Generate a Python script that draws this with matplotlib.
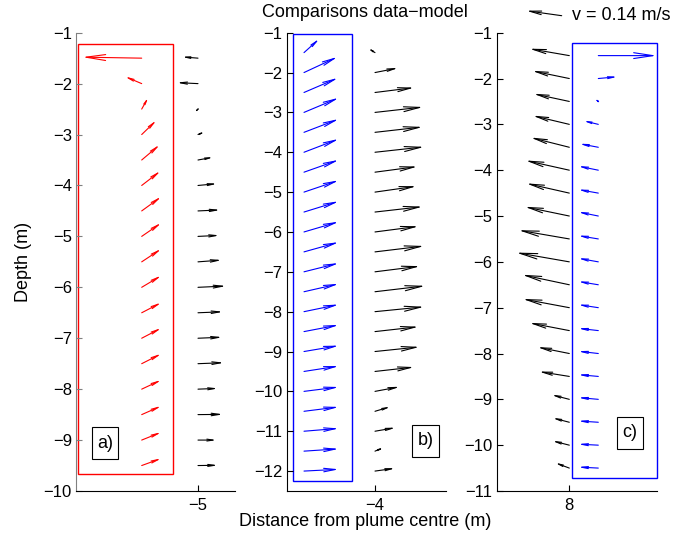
import numpy as np
import matplotlib
matplotlib.use('Agg')
import matplotlib.pyplot as plt
from matplotlib.patches import Rectangle
from matplotlib.path import Path

plt.rcParams['font.family'] = ['Liberation Sans', 'DejaVu Sans']
plt.rcParams['font.size'] = 12

DPI = 100
S = 257.0  # arrow length in pixels for 1 m/s

# ---- panel a) : data (black) at x=-5, model (red)
depth_a = np.arange(-1.5, -9.51, -0.5)
x_obs_a, x_mod_a = -5.0, -5.563
u_obs_a = [-0.063, -0.083, 0.007, 0.028, 0.060, 0.075, 0.087, 0.084, 0.093,
           0.110, 0.098, 0.095, 0.102, 0.078, 0.098, 0.073, 0.078]
v_obs_a = [0.005, 0.004, 0.007, 0.011, 0.011, 0.007, 0.004, 0.004, 0.007,
           0.005, 0.004, 0.004, 0.004, 0.003, 0.001, 0.000, 0.001]
u_mod_a = [-0.231, -0.066, 0.026, 0.058, 0.071, 0.074, 0.077, 0.077, 0.077,
           0.077, 0.077, 0.077, 0.077, 0.077, 0.077, 0.077, 0.077]
v_mod_a = [0.004, 0.028, 0.046, 0.056, 0.060, 0.057, 0.056, 0.053, 0.051,
           0.046, 0.040, 0.040, 0.039, 0.036, 0.034, 0.031, 0.028]

# ---- panel b) : data (black) at x=-4, model (blue)
depth_b = np.arange(-1.5, -12.01, -0.5)
x_obs_b, x_mod_b = -4.0, -4.71
u_obs_b = [-0.028, 0.091, 0.153, 0.188, 0.186, 0.192, 0.166, 0.162, 0.186, 0.170, 0.192,
           0.176, 0.196, 0.192, 0.170, 0.174, 0.153, 0.097, 0.061, 0.081, 0.035, 0.079]
v_obs_b = [0.018, 0.018, 0.019, 0.021, 0.021, 0.021, 0.022, 0.023, 0.021, 0.022, 0.023,
           0.022, 0.023, 0.019, 0.019, 0.018, 0.017, 0.018, 0.018, 0.014, 0.014, 0.011]
u_mod_b = [0.060, 0.131, 0.133, 0.136, 0.136, 0.136, 0.136, 0.136, 0.136, 0.136, 0.136,
           0.136, 0.136, 0.136, 0.136, 0.136, 0.136, 0.136, 0.136, 0.136, 0.136, 0.136]
v_mod_b = [0.054, 0.061, 0.057, 0.057, 0.052, 0.052, 0.048, 0.046, 0.042, 0.040, 0.038,
           0.034, 0.031, 0.028, 0.026, 0.023, 0.021, 0.017, 0.017, 0.011, 0.009, 0.007]

# ---- panel c) : data (black) at x=8, model (blue)
depth_c = np.arange(-1.5, -10.51, -0.5)
x_obs_c, x_mod_c = 8.0, 8.29
u_obs_c = [-0.156, -0.145, -0.140, -0.143, -0.151, -0.171, -0.168, -0.174, -0.198, -0.207,
           -0.184, -0.182, -0.156, -0.125, -0.119, -0.070, -0.066, -0.067, -0.056]
v_obs_c = [0.027, 0.030, 0.030, 0.034, 0.038, 0.038, 0.038, 0.036, 0.034, 0.036,
           0.039, 0.034, 0.030, 0.025, 0.019, 0.018, 0.017, 0.017, 0.021]
u_mod_c = [0.227, 0.075, -0.016, -0.058, -0.074, -0.079, -0.079, -0.079, -0.079, -0.079,
           -0.079, -0.079, -0.079, -0.079, -0.079, -0.079, -0.079, -0.079, -0.079]
v_mod_c = [0.000, 0.007, 0.013, 0.014, 0.014, 0.016, 0.014, 0.016, 0.013, 0.014,
           0.013, 0.012, 0.009, 0.009, 0.007, 0.007, 0.005, 0.004, 0.004]

# model domain boxes [x0, x1, y0, y1]
box_a = [-6.20, -5.25, -9.67, -1.22]
box_b = [-4.823, -4.233, -12.26, -1.03]
box_c = [8.027, 8.874, -10.72, -1.22]

key_u, key_v = -0.139, 0.0195


def head_style(uu, vv):
    lp = np.hypot(uu, vv) * S * 72 / DPI
    return f'<-,head_length={0.33 * lp:.3f},head_width={0.05 * lp:.3f}'


def arrows(ax, x0, depth, u, v, color):
    for y0, uu, vv in zip(depth, u, v):
        ax.annotate('', xy=(x0, y0), xytext=(uu * S, vv * S), textcoords='offset pixels',
                    arrowprops=dict(arrowstyle=head_style(uu, vv), color=color, lw=0.8,
                                    shrinkA=0, shrinkB=0, mutation_scale=1))


def setup(ax, xlim, ylim, xtick, yticks):
    ax.set_xlim(xlim)
    ax.set_ylim(ylim)
    ax.set_xticks([xtick])
    ax.set_yticks(yticks)
    for s in ['top', 'right']:
        ax.spines[s].set_visible(False)
    ax.tick_params(direction='in', length=4, width=0.8)
    ax.tick_params(axis='y', pad=3)
    ax.tick_params(axis='x', pad=5)


def box(ax, b, color):
    ax.add_patch(Rectangle((b[0], b[2]), b[1] - b[0], b[3] - b[2], fill=False,
                           ec=color, lw=1.0, clip_on=False))


def tall_box(x0, y0, width, height, mutation_size):
    px, py = 0.3 * mutation_size, 0.42 * mutation_size
    return Path([(x0 - px, y0 - py), (x0 + width + px, y0 - py),
                 (x0 + width + px, y0 + height + py), (x0 - px, y0 + height + py),
                 (x0 - px, y0 - py)], closed=True)


def label(ax, x, y, s):
    ax.text(x, y, s, ha='center', va='center', fontsize=13,
            bbox=dict(boxstyle=tall_box, fc='white', ec='black', lw=0.8))


fig = plt.figure(figsize=(6.99, 5.37), dpi=DPI)

ax1 = fig.add_axes([76 / 699, 1 - 491 / 537, 159 / 699, 458.3 / 537])
setup(ax1, (-6.22, -4.63), (-10, -1), -5, np.arange(-10, -0.5, 1))
ax1.spines['left'].set_color('#808080')
ax1.tick_params(axis='y', colors='#808080', labelcolor='black')
box(ax1, box_a, 'red')
arrows(ax1, x_obs_a, depth_a, u_obs_a, v_obs_a, 'black')
arrows(ax1, x_mod_a, depth_a, u_mod_a, v_mod_a, 'red')
label(ax1, -5.93, -9.06, 'a)')
ax1.set_ylabel('Depth (m)', fontsize=13, labelpad=8)

ax2 = fig.add_axes([286.7 / 699, 1 - 491 / 537, 159.3 / 699, 458.3 / 537])
setup(ax2, (-4.883, -3.29), (-12.5, -1), -4, np.arange(-12, -0.5, 1))
box(ax2, box_b, 'blue')
arrows(ax2, x_obs_b, depth_b, u_obs_b, v_obs_b, 'black')
arrows(ax2, x_mod_b, depth_b, u_mod_b, v_mod_b, 'blue')
label(ax2, -3.492, -11.24, 'b)')

ax3 = fig.add_axes([496.7 / 699, 1 - 491 / 537, 160 / 699, 458.3 / 537])
setup(ax3, (7.274, 8.874), (-11, -1), 8, np.arange(-11, -0.5, 1))
box(ax3, box_c, 'blue')
arrows(ax3, x_obs_c, depth_c, u_obs_c, v_obs_c, 'black')
arrows(ax3, x_mod_c, depth_c, u_mod_c, v_mod_c, 'blue')
label(ax3, 8.609, -9.73, 'c)')

# velocity key
ax3.annotate('', xy=(561.7, 537 - 15.7), xycoords='figure pixels',
             xytext=(key_u * S, key_v * S), textcoords='offset pixels',
             arrowprops=dict(arrowstyle=head_style(key_u, key_v), color='black', lw=0.8,
                             shrinkA=0, shrinkB=0, mutation_scale=1),
             annotation_clip=False)
fig.text(572 / 699, 1 - 15.5 / 537, f'v = {np.hypot(key_u, key_v):.2f} m/s',
         ha='left', va='center', fontsize=13)

fig.text(262 / 699, 1 - 12.5 / 537, 'Comparisons data\u2212model', ha='left', va='center', fontsize=13)
fig.text(365 / 699, 1 - 522 / 537, 'Distance from plume centre (m)', ha='center', va='center',
         fontsize=13)

fig.savefig('out.png', dpi=DPI)
